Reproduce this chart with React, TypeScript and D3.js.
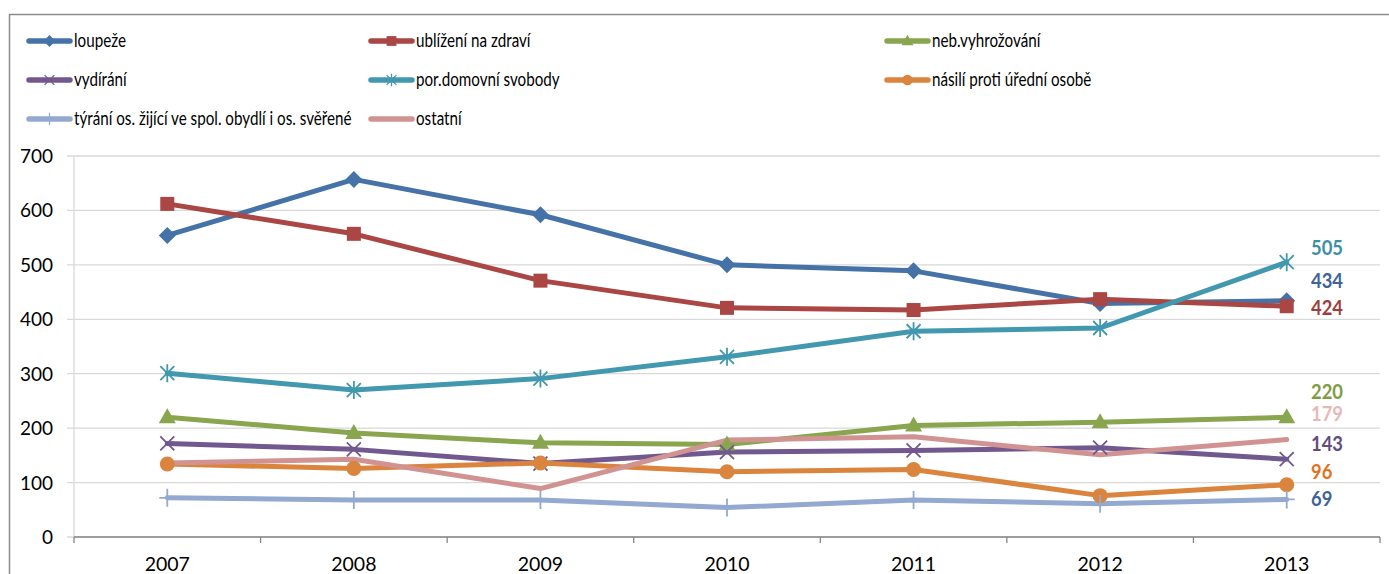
import React from "react";
import * as d3 from "d3";

const years = ["2007", "2008", "2009", "2010", "2011", "2012", "2013"];
const yTicks = [0, 100, 200, 300, 400, 500, 600, 700];

const loupeze = [554, 657, 592, 500, 489, 429, 434];
const ublizeni = [612, 557, 471, 421, 417, 437, 424];
const vyhrozovani = [220, 191, 173, 170, 205, 211, 220];
const vydirani = [172, 161, 135, 156, 159, 164, 143];
const domovni = [301, 270, 291, 331, 378, 384, 505];
const nasili = [134, 126, 136, 120, 124, 76, 96];
const tyrani = [72, 68, 68, 54, 68, 61, 69];
const ostatni = [136, 143, 89, 178, 184, 151, 179];

type Marker = "diamond" | "square" | "triangle" | "x" | "star" | "circle" | "plus" | "none";

const series: { name: string; values: number[]; color: string; labelColor: string; marker: Marker; labelDy: number }[] = [
  { name: "loupeže", values: loupeze, color: "#4572A7", labelColor: "#3E6397", marker: "diamond", labelDy: -20 },
  { name: "ublížení na zdraví", values: ublizeni, color: "#AA4643", labelColor: "#A03D3B", marker: "square", labelDy: 2 },
  { name: "neb.vyhrožování", values: vyhrozovani, color: "#89A54E", labelColor: "#7F9B43", marker: "triangle", labelDy: -25 },
  { name: "vydírání", values: vydirani, color: "#71588F", labelColor: "#634C80", marker: "x", labelDy: -15 },
  { name: "por.domovní svobody", values: domovni, color: "#4198AF", labelColor: "#3B8FA6", marker: "star", labelDy: -14 },
  { name: "násilí proti úřední osobě", values: nasili, color: "#DB843D", labelColor: "#E1731C", marker: "circle", labelDy: -12.5 },
  { name: "týrání os. žijící ve spol. obydlí i os. svěřené", values: tyrani, color: "#93A9CF", labelColor: "#3E6397", marker: "plus", labelDy: 0 },
  { name: "ostatní", values: ostatni, color: "#D19392", labelColor: "#E6B9B8", marker: "none", labelDy: -26 },
];

const W = 1389;
const H = 574;
const FONT = "Lato, 'Open Sans', sans-serif";

function MarkerShape({ kind, x, y, color, s = 1 }: { kind: Marker; x: number; y: number; color: string; s?: number }) {
  const t = `translate(${x},${y}) scale(${s})`;
  switch (kind) {
    case "diamond":
      return <path transform={t} d="M0,-8.5 L8.5,0 L0,8.5 L-8.5,0 Z" fill={color} />;
    case "square":
      return <rect transform={t} x={-7} y={-7} width={14} height={14} fill={color} />;
    case "triangle":
      return <path transform={t} d="M0,-9 L8.5,6 L-8.5,6 Z" fill={color} />;
    case "x":
      return <path transform={t} d="M-7,-7 L7,7 M-7,7 L7,-7" stroke={color} strokeWidth={1.8} fill="none" />;
    case "star":
      return (
        <path transform={t} d="M-7,-7 L7,7 M-7,7 L7,-7 M0,-9 L0,9" stroke={color} strokeWidth={1.8} fill="none" />
      );
    case "circle":
      return <circle transform={t} r={7.5} fill={color} />;
    case "plus":
      return <path transform={t} d="M-8,0 L8,0 M0,-9 L0,9" stroke={color} strokeWidth={1.8} fill="none" />;
    default:
      return null;
  }
}

export default function App() {
  const x0 = 74;
  const x1 = 1380;
  const yTop = 156;
  const yBot = 537;

  const xBand = d3.scaleBand<string>().domain(years).range([x0, x1]);
  const xc = (i: number) => (xBand(years[i]) as number) + xBand.bandwidth() / 2;
  const y = d3.scaleLinear().domain([0, 700]).range([yBot, yTop]);
  const line = d3
    .line<number>()
    .x((_, i) => xc(i))
    .y((v) => y(v));

  const legendCols = [29, 371, 887];
  const legendRows = [41, 80, 119];

  return (
    <svg
      width={W}
      height={H}
      style={{ position: "absolute", left: 0, top: 0, background: "#fff" }}
      fontFamily={FONT}
    >
      {/* outer frame */}
      <path d={`M9.5,${H + 2} L9.5,14.5 L${W + 2},14.5`} stroke="#8C8C8C" strokeWidth={1.5} fill="none" />

      {/* gridlines */}
      {yTicks.map((t) => (
        <line key={t} x1={67} x2={x1} y1={y(t)} y2={y(t)} stroke="#D9D9D9" strokeWidth={1.3} />
      ))}
      {/* y-axis */}
      <line x1={x0} x2={x0} y1={yTop} y2={yBot} stroke="#D9D9D9" strokeWidth={1.3} />
      {/* x-axis */}
      <line x1={x0} x2={x1} y1={yBot} y2={yBot} stroke="#868686" strokeWidth={1.3} />
      {years.map((yr) => (
        <line key={yr} x1={xBand(yr)} x2={xBand(yr)} y1={yBot} y2={yBot + 6} stroke="#868686" strokeWidth={1.3} />
      ))}
      <line x1={x1} x2={x1} y1={yBot} y2={yBot + 6} stroke="#868686" strokeWidth={1.3} />

      {/* y labels */}
      {yTicks.map((t) => (
        <text key={t} x={53} y={y(t) + 7} textAnchor="end" fontSize={19} fill="#000">
          {t}
        </text>
      ))}
      {/* x labels */}
      {years.map((yr, i) => (
        <text key={yr} x={xc(i)} y={571} textAnchor="middle" fontSize={19.5} fill="#000">
          {yr}
        </text>
      ))}

      {/* lines */}
      {series.map((s) => (
        <path
          key={s.name}
          d={line(s.values) as string}
          stroke={s.color}
          strokeWidth={5}
          fill="none"
          strokeLinejoin="round"
          strokeLinecap="round"
        />
      ))}
      {/* markers */}
      {series.map((s) =>
        s.values.map((v, i) => <MarkerShape key={s.name + i} kind={s.marker} x={xc(i)} y={y(v)} color={s.color} />)
      )}

      {/* end labels */}
      {series.map((s) => {
        const v = s.values[s.values.length - 1];
        return (
          <g key={s.name + "lbl"} transform={`translate(1311,${y(v) + s.labelDy + 7}) scale(0.92,1)`}>
            <text fontSize={20} fontWeight="bold" fill={s.labelColor}>
              {v}
            </text>
          </g>
        );
      })}

      {/* legend */}
      {series.map((s, i) => {
        const cx = legendCols[i % 3];
        const cy = legendRows[Math.floor(i / 3)];
        return (
          <g key={s.name + "leg"}>
            <line x1={cx} x2={cx + 41} y1={cy} y2={cy} stroke={s.color} strokeWidth={5.5} strokeLinecap="round" />
            <MarkerShape kind={s.marker} x={cx + 20.5} y={cy} color={s.color} s={0.7} />
            <g transform={`translate(${cx + 45},${cy + 5.5}) scale(0.8,1)`}>
              <text fontSize={19} fill="#000">
                {s.name}
              </text>
            </g>
          </g>
        );
      })}
    </svg>
  );
}
